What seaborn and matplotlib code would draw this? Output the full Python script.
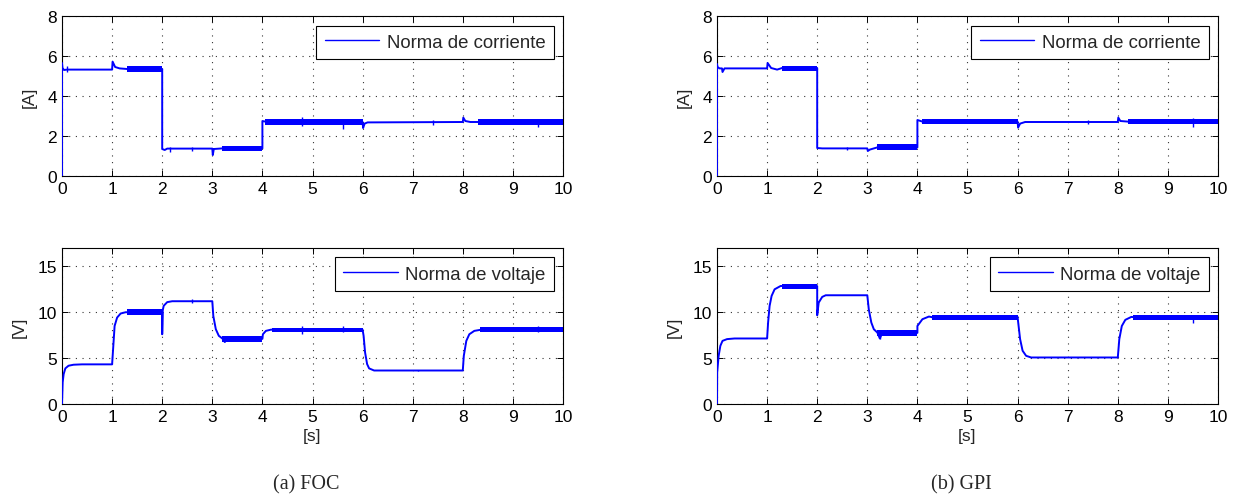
import matplotlib
matplotlib.use("Agg")
import matplotlib.pyplot as plt
import pandas as pd
import seaborn as sns

# ---------------- data ----------------
time_ticks = list(range(0, 11))
current_ticks = [0, 2, 4, 6, 8]
voltage_ticks = [0, 5, 10, 15]

# FOC: current norm trace [A]
foc_i_t = [0, 0, 0.01, 0.04, 0.1, 1.0, 1.01, 1.06, 1.15, 1.3, 2.0, 2.0, 2.05, 2.1, 3.0, 3.01,
           3.03, 3.2, 4.0, 4.0, 4.1, 6.0, 6.01, 6.04, 6.1, 8.0, 8.01, 8.05, 8.15, 8.3, 10.0]
foc_i_y = [0, 5.65, 5.4, 5.3, 5.32, 5.32, 5.72, 5.45, 5.38, 5.35, 5.35, 1.35, 1.3, 1.37, 1.37, 1.05,
           1.35, 1.38, 1.38, 2.75, 2.7, 2.7, 2.4, 2.62, 2.68, 2.7, 2.92, 2.75, 2.7, 2.7, 2.7]
# ripple bands: (start, end, low, high)
foc_i_bands = [(1.3, 2.0, 5.2, 5.48), (3.2, 4.0, 1.24, 1.52), (4.05, 6.0, 2.57, 2.83),
               (8.3, 10.0, 2.57, 2.83)]
# isolated spikes: (time, low, high)
foc_i_spikes = [(0.1, 5.2, 5.5), (2.15, 1.2, 1.45), (2.6, 1.25, 1.45), (4.8, 2.5, 2.95),
                (5.6, 2.35, 2.8), (7.4, 2.55, 2.8), (9.5, 2.45, 2.85)]

# FOC: voltage norm trace [V]
foc_v_t = [0, 0.013, 0.033, 0.067, 0.13, 0.23, 0.4, 1.0, 1.02, 1.05, 1.1, 1.17, 1.27, 1.4,
           2.0, 2.0, 2.01, 2.03, 2.1, 2.2, 3.0, 3.02, 3.07, 3.13, 3.2, 3.25, 3.3, 4.0, 4.01,
           4.07, 4.17, 4.3, 6.0, 6.02, 6.05, 6.09, 6.13, 6.23, 6.4, 8.0, 8.02, 8.07, 8.13,
           8.23, 8.37, 10.0]
foc_v_y = [0, 2.35, 3.26, 3.88, 4.17, 4.28, 4.32, 4.32, 5.98, 8.5, 9.42, 9.86, 10.0, 10.0,
           10.0, 7.6, 10.2, 10.7, 11.1, 11.2, 11.2, 9.6, 8.15, 7.43, 7.14, 6.75, 7.1, 7.1, 7.6,
           7.97, 8.1, 8.1, 8.1, 7.43, 5.6, 4.35, 3.88, 3.65, 3.65, 3.65, 5.25, 6.88, 7.6,
           7.97, 8.1, 8.1]
foc_v_bands = [(1.3, 2.0, 9.72, 10.3), (3.2, 4.0, 6.8, 7.36), (4.2, 6.0, 7.82, 8.32),
               (8.35, 10.0, 7.82, 8.35)]
foc_v_spikes = [(2.6, 11.0, 11.45), (4.8, 7.6, 8.5), (5.6, 7.9, 8.55), (7.1, 3.55, 3.75),
                (9.5, 7.9, 8.5)]

# GPI: current norm trace [A]
gpi_i_t = [0, 0, 0.01, 0.05, 0.1, 0.11, 0.15, 1.0, 1.01, 1.08, 1.2, 1.3, 2.0, 2.0, 2.1, 3.0,
           3.01, 3.05, 3.2, 4.0, 4.0, 4.1, 6.0, 6.01, 6.05, 6.15, 8.0, 8.01, 8.05, 8.2, 10.0]
gpi_i_y = [0, 5.6, 5.45, 5.38, 5.38, 5.2, 5.38, 5.38, 5.65, 5.4, 5.32, 5.4, 5.4, 1.4, 1.38,
           1.38, 1.25, 1.32, 1.43, 1.43, 2.8, 2.72, 2.72, 2.42, 2.62, 2.7, 2.7, 2.92, 2.75,
           2.72, 2.72]
gpi_i_bands = [(1.3, 2.0, 5.27, 5.52), (3.2, 4.0, 1.28, 1.58), (4.1, 6.0, 2.6, 2.85),
               (8.2, 10.0, 2.6, 2.85)]
gpi_i_spikes = [(2.6, 1.3, 1.45), (7.4, 2.6, 2.78), (9.5, 2.45, 2.88)]

# GPI: voltage norm trace [V]
gpi_v_t = [0, 0.003, 0.033, 0.067, 0.11, 0.2, 0.35, 1.0, 1.02, 1.05, 1.09, 1.15, 1.27, 1.35,
           2.0, 2.0, 2.03, 2.1, 2.17, 3.0, 3.03, 3.08, 3.13, 3.2, 3.25, 3.3, 4.0, 4.0, 4.1,
           4.23, 4.3, 6.0, 6.02, 6.05, 6.1, 6.17, 6.27, 8.0, 8.03, 8.08, 8.15, 8.27, 8.35, 10.0]
gpi_v_y = [0, 3.44, 5.25, 6.34, 6.88, 7.07, 7.14, 7.14, 8.88, 10.69, 11.78, 12.5, 12.86, 12.85,
           12.85, 9.67, 11.05, 11.67, 11.85, 11.85, 10.3, 8.88, 8.15, 7.79, 7.14, 7.75, 7.75,
           8.5, 9.24, 9.53, 9.45, 9.45, 8.5, 7.07, 5.8, 5.25, 5.07, 5.07, 7.07, 8.5, 9.17,
           9.49, 9.45, 9.45]
gpi_v_bands = [(1.3, 2.0, 12.57, 13.1), (3.2, 4.0, 7.36, 8.08), (4.3, 6.0, 9.15, 9.72),
               (8.3, 10.0, 9.17, 9.75)]
gpi_v_spikes = [(3.25, 7.1, 8.1), (9.5, 8.88, 9.7)]

captions = ["(a) FOC", "(b) GPI"]

# ---------------- style ----------------
sns.set_theme(style="ticks")
plt.rcParams.update({
    "font.family": ["Liberation Sans", "DejaVu Sans"],
    "font.size": 12,
    "axes.edgecolor": "black",
    "axes.linewidth": 0.8,
    "xtick.direction": "in",
    "ytick.direction": "in",
    "xtick.top": True,
    "ytick.right": True,
    "xtick.major.size": 4,
    "ytick.major.size": 4,
    "xtick.major.width": 0.7,
    "ytick.major.width": 0.7,
    "xtick.color": "black",
    "ytick.color": "black",
    "xtick.labelsize": 12.5,
    "ytick.labelsize": 12.5,
})

BLUE = "#0000ff"

fig = plt.figure(figsize=(12.33, 5.02), dpi=100)

W, H = 1233, 502


def axes_px(x0, x1, y0, y1):
    return fig.add_axes([x0 / W, 1 - y1 / H, (x1 - x0) / W, (y1 - y0) / H])


def panel(ax, t, y, bands, spikes, label, yticks, ymax, ylabel, xlabel=None):
    for t0, t1, lo, hi in bands:
        ax.fill_between([t0, t1], [lo, lo], [hi, hi], color=BLUE, lw=0, zorder=2)
    for ts, lo, hi in spikes:
        ax.vlines(ts, lo, hi, color=BLUE, lw=1.0, zorder=2)
    df = pd.DataFrame({"t": t, "v": y})
    sns.lineplot(data=df, x="t", y="v", ax=ax, color=BLUE, lw=1.4, sort=False,
                 estimator=None, label=label, zorder=3)
    ax.set_xlim(0, 10)
    ax.set_ylim(0, ymax)
    ax.set_xticks(time_ticks)
    ax.set_yticks(yticks)
    ax.grid(True, color="black", linestyle=(0, (1, 5)), lw=0.8, alpha=0.8)
    ax.set_ylabel(ylabel, fontsize=12.5, labelpad=8)
    ax.set_xlabel(xlabel if xlabel else "", fontsize=12.5, labelpad=3)
    leg = ax.legend(loc="upper right", bbox_to_anchor=(0.982, 0.94), frameon=True,
                    fancybox=False, framealpha=1, edgecolor="black", fontsize=13.4,
                    handlelength=2.95, borderaxespad=0, borderpad=0.45,
                    handletextpad=0.4)
    leg.get_frame().set_linewidth(0.8)
    for line in leg.get_lines():
        line.set_linewidth(1.0)
    for sp in ax.spines.values():
        sp.set_visible(True)


lefts = [(62, 563), (717, 1218)]
sets = [
    (foc_i_t, foc_i_y, foc_i_bands, foc_i_spikes, foc_v_t, foc_v_y, foc_v_bands, foc_v_spikes),
    (gpi_i_t, gpi_i_y, gpi_i_bands, gpi_i_spikes, gpi_v_t, gpi_v_y, gpi_v_bands, gpi_v_spikes),
]

for (x0, x1), data, cap in zip(lefts, sets, captions):
    it, iy, ib, isp, vt, vy, vb, vsp = data
    ax_i = axes_px(x0, x1, 17, 177)
    panel(ax_i, it, iy, ib, isp, "Norma de corriente", current_ticks, 8, "[A]")
    ax_v = axes_px(x0, x1, 249, 405)
    panel(ax_v, vt, vy, vb, vsp, "Norma de voltaje", voltage_ticks, 17, "[V]", "[s]")
    fig.text((x0 + x1) / 2 / W - 0.005, 1 - 485 / H, cap, ha="center", va="center",
             fontsize=14.5, family=["Liberation Serif", "DejaVu Serif"])

fig.savefig("out.png", dpi=100)
